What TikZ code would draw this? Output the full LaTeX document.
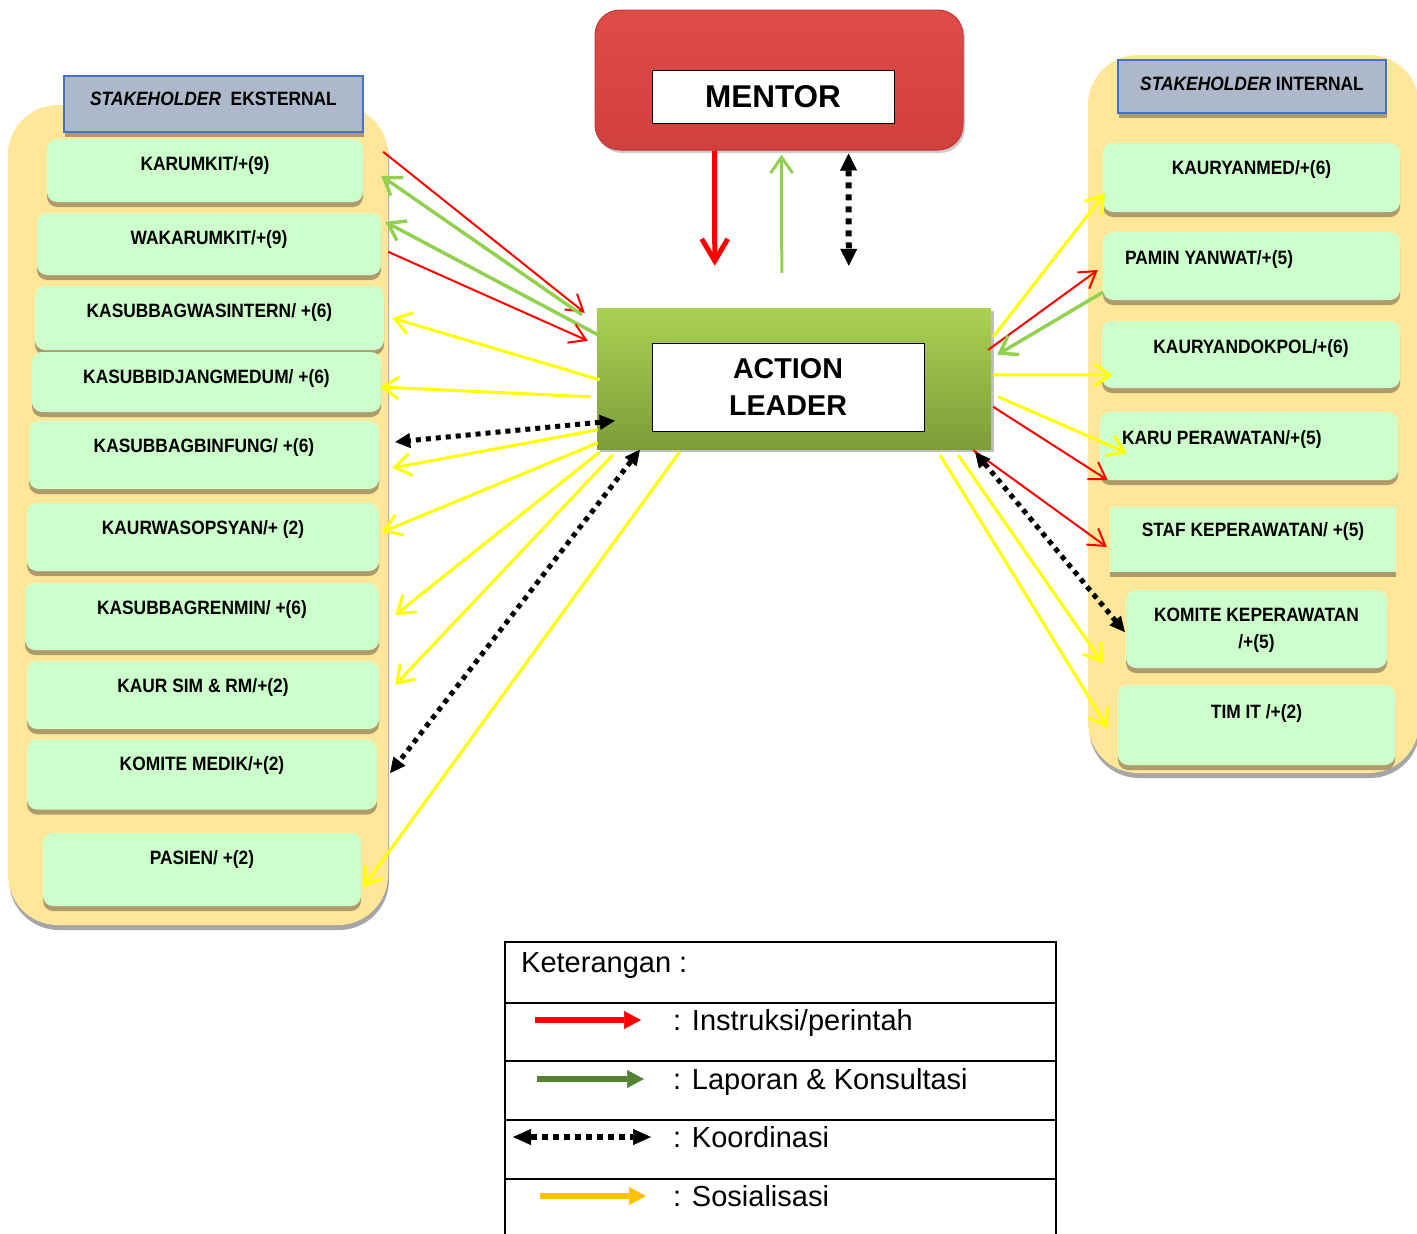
\documentclass[tikz,border=0pt]{standalone}
\usepackage{fontspec}
\setmainfont{Liberation Sans}
\newfontfamily\narrowfont{Liberation Sans}[FakeStretch=0.9]
\usetikzlibrary{arrows.meta,calc,shadows}

\definecolor{panelY}{HTML}{FFE699}
\definecolor{panelSh}{HTML}{A6A6A6}
\definecolor{boxG}{HTML}{CCFFCC}
\definecolor{boxSh}{HTML}{AE9B6B}
\definecolor{hdrF}{HTML}{ADB9CA}
\definecolor{hdrB}{HTML}{4472C4}
\definecolor{mentTop}{HTML}{DE4C48}
\definecolor{mentBot}{HTML}{D0403C}
\definecolor{mentEdge}{HTML}{C23A36}
\definecolor{alTop}{HTML}{AAD152}
\definecolor{alBot}{HTML}{7E9C3A}
\definecolor{lnR}{HTML}{FF0000}
\definecolor{lnG}{HTML}{92D050}
\definecolor{lnY}{HTML}{FFFF00}
\definecolor{legG}{HTML}{548235}
\definecolor{legY}{HTML}{FFC000}

\begin{document}
\begin{tikzpicture}[x=1pt,y=-1pt,
  boxfont/.style={font=\narrowfont\bfseries\fontsize{19.3pt}{27pt}\selectfont},
  panel/.style={fill=panelY, rounded corners=50pt, inner sep=0pt,
    drop shadow={shadow xshift=1pt, shadow yshift=-5pt, fill=panelSh, opacity=1}},
  gbox/.style={boxfont, fill=boxG, rounded corners=10pt, inner sep=0pt, text height=31pt,
    drop shadow={shadow xshift=0pt, shadow yshift=-5pt, fill=boxSh, opacity=1}},
  hdr/.style={boxfont, fill=hdrF, draw=hdrB, line width=1.5pt, inner sep=0pt,
    drop shadow={shadow xshift=1pt, shadow yshift=-5pt, fill=boxSh, opacity=1}},
  arInst/.style={draw=lnR, line width=2pt, -{Straight Barb[length=16pt,width=20pt]}},
  arRep/.style={draw=lnG, line width=3.5pt, -{Straight Barb[length=16pt,width=22pt]}},
  arSos/.style={draw=lnY, line width=3pt, -{Straight Barb[length=16pt,width=22pt]}},
  arKoor/.style={draw=black, line width=5pt, dash pattern=on 5pt off 5pt,
    {Triangle[length=15pt,width=15pt,line width=0.5pt]}-{Triangle[length=15pt,width=15pt,line width=0.5pt]}},
  arInstBig/.style={draw=lnR, line width=5pt, -{Straight Barb[length=22pt,width=26pt]}},
  arKoorV/.style={draw=black, line width=6pt, dash pattern=on 6pt off 6pt,
    {Triangle[length=17pt,width=17pt,line width=0.5pt]}-{Triangle[length=17pt,width=17pt,line width=0.5pt]}},
  legrow/.style={draw=black, line width=2pt, minimum width=551pt, inner sep=0pt},
  legtext/.style={anchor=base west, inner sep=0pt, font=\fontsize{29pt}{34pt}\selectfont},
  legInst/.style={draw=lnR, line width=6pt, -{Triangle[length=17pt,width=18pt,line width=0.5pt]}},
  legRep/.style={draw=legG, line width=6pt, -{Triangle[length=17pt,width=18pt,line width=0.5pt]}},
  legSos/.style={draw=legY, line width=6pt, -{Triangle[length=17pt,width=18pt,line width=0.5pt]}},
  legKoor/.style={draw=black, line width=6pt, dash pattern=on 6pt off 5pt,
    {Triangle[length=18pt,width=16pt,line width=0.5pt]}-{Triangle[length=18pt,width=16pt,line width=0.5pt]}}
]
\useasboundingbox (0,0) rectangle (1417,1234);

% panels
\node[panel, minimum width=380pt, minimum height=820pt] (pl) at (198,515) {};
\node[panel, minimum width=331pt, minimum height=718pt] (pr) at (1253.5,414) {};

% headers
\node[hdr, minimum width=299pt, text height=29pt, text depth=27pt] (hl) at (213.5,104) {\textit{STAKEHOLDER}\ \ EKSTERNAL};
\node[hdr, minimum width=268pt, text height=30pt, text depth=23pt] (hr) at (1252,86.5) {\textit{STAKEHOLDER} INTERNAL};

% left boxes
\node[gbox, minimum width=316pt, text depth=32pt] (l1) at (205,170.5) {KARUMKIT/+(9)};
\node[gbox, minimum width=344pt, text depth=31pt] (l2) at (209,244) {WAKARUMKIT/+(9)};
\node[gbox, minimum width=349pt, text depth=33pt] (l3) at (209.5,318) {KASUBBAGWASINTERN/ +(6)};
\node[gbox, minimum width=349pt, text depth=29pt] (l4) at (206.5,382) {KASUBBIDJANGMEDUM/ +(6)};
\node[gbox, minimum width=350pt, text depth=37pt] (l5) at (204,455) {KASUBBAGBINFUNG/ +(6)};
\node[gbox, minimum width=352pt, text depth=37pt] (l6) at (203,537) {KAURWASOPSYAN/+ (2)};
\node[gbox, minimum width=354pt, text depth=36pt] (l7) at (202,616.5) {KASUBBAGRENMIN/ +(6)};
\node[gbox, minimum width=352pt, text depth=37pt] (l8) at (203,695) {KAUR SIM \& RM/+(2)};
\node[gbox, minimum width=350pt, text depth=39pt] (l9) at (202,774.5) {KOMITE MEDIK/+(2)};
\node[gbox, minimum width=318pt, text depth=42pt] (l10) at (202,869.5) {PASIEN/ +(2)};

% right boxes
\node[gbox, minimum width=297pt, text depth=38pt] (r1) at (1251.5,177.5) {KAURYANMED/+(6)};
\node[gbox, text width=253pt, inner xsep=22pt, align=flush left, text height=32pt, text depth=36pt] (r2) at (1251.5,266) {PAMIN YANWAT/+(5)};
\node[gbox, minimum width=298pt, text height=32pt, text depth=35pt] (r3) at (1251,354.5) {KAURYANDOKPOL/+(6)};
\node[gbox, text width=254pt, inner xsep=22pt, align=flush left, text height=32pt, text depth=36pt] (r4) at (1249,446) {KARU PERAWATAN/+(5)};
\node[gbox, sharp corners, minimum width=286pt, text height=29pt, text depth=36pt] (r5) at (1253,539.5) {STAF KEPERAWATAN/ +(5)};
\node[gbox, minimum width=261pt, align=center, text height=58pt, text depth=20pt] (r6) at (1256.5,629) {KOMITE KEPERAWATAN\\/+(5)};
\node[gbox, minimum width=277pt, text height=33pt, text depth=47pt] (r7) at (1256.5,725) {TIM IT /+(2)};

% mentor
\node[top color=mentTop, bottom color=mentBot, draw=mentEdge, line width=1pt, rounded corners=25pt,
  minimum width=368pt, minimum height=140pt, inner sep=0pt,
  drop shadow={shadow xshift=2pt, shadow yshift=-3pt, fill=black, opacity=0.2}] (mentor) at (779,80) {};
\node[draw=black, fill=white, line width=1pt, minimum width=242pt, minimum height=53pt, inner sep=0pt,
  font=\bfseries\fontsize{31.5pt}{36pt}\selectfont] (mtext) at (773,96.5) {MENTOR};

% action leader
\node[top color=alTop, bottom color=alBot, minimum width=394pt, minimum height=141pt, inner sep=0pt,
  drop shadow={shadow xshift=3pt, shadow yshift=-3pt, fill=black, opacity=0.25}] (al) at (794,378.5) {};
\node[draw=black, fill=white, line width=1pt, minimum width=272pt, minimum height=88pt, inner sep=0pt, align=center,
  font=\bfseries\fontsize{28.7pt}{37pt}\selectfont] (altext) at (788,387) {ACTION\\LEADER};

\coordinate (A) at (al.north west);
\coordinate (B) at (al.north east);
\coordinate (C) at (al.south east);
\coordinate (M) at (mentor.south west);

% mentor <-> action leader
\draw[arInstBig] ($(M)+(120,0)$) -- ($(A)+(118,-42)$);
\draw[arRep, line width=3pt] ($(A)+(185,-35)$) -- ($(M)+(187,4)$);
\draw[arKoorV] ($(M)+(254,3)$) -- ($(A)+(252,-42)$);

% left connectors
\draw[arInst] ($(l1.north east)+(20,13)$) -- ($(A)+(-12,5)$);
\draw[arRep] ($(A)+(-15,7)$) -- ($(l1.north east)+(18,37)$);
\draw[arRep] ($(A)+(5,29)$) -- ($(l2.north east)+(4,9)$);
\draw[arInst] ($(l2.north east)+(7,39)$) -- ($(A)+(-9,33)$);
\draw[arSos] ($(A)+(3,72)$) -- ($(l3.east)+(8,0)$);
\draw[arSos] ($(A)+(-6,89)$) -- ($(l4.east)+(-1,5)$);
\draw[arKoor] ($(A)+(18,113)$) -- ($(l5.east)+(16,-13)$);
\draw[arSos] ($(A)+(1,122)$) -- ($(l5.east)+(13,13)$);
\draw[arSos] ($(A)+(1,135)$) -- ($(l6.east)+(3,-5)$);
\draw[arSos] ($(A)+(3,144)$) -- ($(l7.east)+(16,-1.5)$);
\draw[arSos] ($(A)+(16,147)$) -- ($(l8.east)+(16,-10)$);
\draw[arKoor] ($(A)+(43,142)$) -- ($(l9.east)+(13,-1.5)$);
\draw[arSos] ($(A)+(83,144)$) -- ($(l10.east)+(2,17.5)$);

% right connectors
\draw[arSos] ($(B)+(2,29)$) -- ($(r1.south west)+(2,-19)$);
\draw[arInst] ($(B)+(-3,42)$) -- ($(r2.west)+(-5,4)$);
\draw[arRep] ($(r2.south west)+(0,-8)$) -- ($(B)+(6,47)$);
\draw[arSos] ($(B)+(2,67)$) -- ($(r3.west)+(11,20.5)$);
\draw[arSos] ($(B)+(7,89)$) -- ($(r4.west)+(27,7)$);
\draw[arInst] ($(B)+(2,99)$) -- ($(r4.south west)+(8,0)$);
\draw[arInst] ($(C)+(-18,1)$) -- ($(r5.west)+(-3,7.5)$);
\draw[arKoor] ($(C)+(-16,3)$) -- ($(r6.west)+(-1,3)$);
\draw[arSos] ($(C)+(-33,6)$) -- ($(r6.south west)+(-23,-5)$);
\draw[arSos] ($(C)+(-51,6)$) -- ($(r7.west)+(-10,3)$);

% legend
\node[legrow, minimum height=61pt] (lg0) at (780.5,972.5) {};
\node[legrow, minimum height=58pt] (lg1) at (780.5,1032) {};
\node[legrow, minimum height=59pt] (lg2) at (780.5,1090.5) {};
\node[legrow, minimum height=59pt] (lg3) at (780.5,1149.5) {};
\node[legrow, minimum height=61pt] (lg4) at (780.5,1209.5) {};
\node[legtext] (k0) at (521,972) {Keterangan :};
\node[legtext] (k1) at (673,1030) {: Instruksi/perintah};
\node[legtext] (k2) at (673,1089) {: Laporan \& Konsultasi};
\node[legtext] (k3) at (673,1147) {: Koordinasi};
\node[legtext] (k4) at (673,1206) {: Sosialisasi};
\coordinate (a1s) at (535,1020); \coordinate (a1e) at (641,1020);
\coordinate (a2s) at (537,1079); \coordinate (a2e) at (644,1079);
\coordinate (a3s) at (513,1137); \coordinate (a3e) at (651,1137);
\coordinate (a4s) at (540,1196); \coordinate (a4e) at (646,1196);
\draw[legInst] (a1s) -- (a1e);
\draw[legRep] (a2s) -- (a2e);
\draw[legKoor] (a3s) -- (a3e);
\draw[legSos] (a4s) -- (a4e);
\end{tikzpicture}
\end{document}
